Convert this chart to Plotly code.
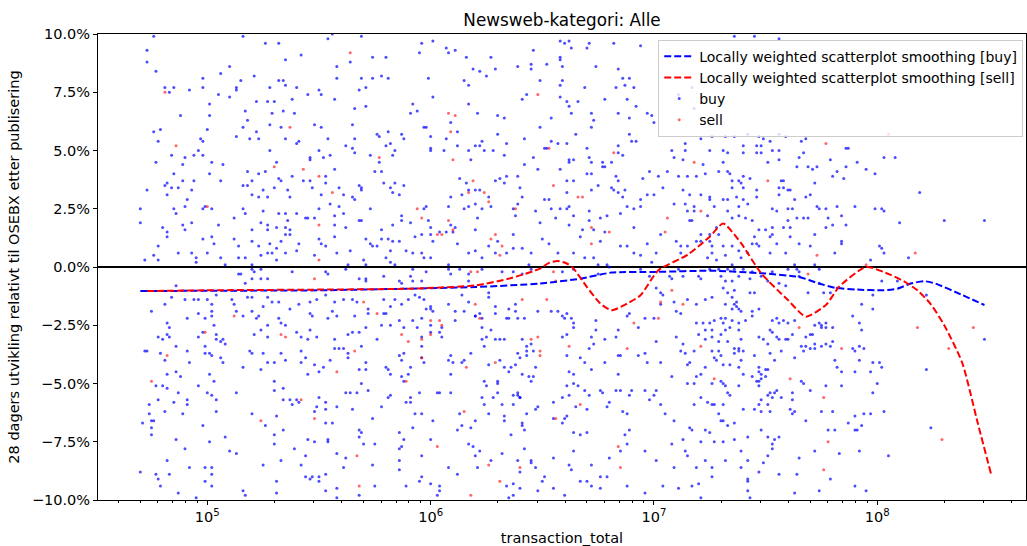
import plotly.graph_objects as go

# ---------------- data (log10 of transaction_total, 28-day return in %) ----------------
buy_obs = [
(4.76,9.9),(5.16,9.9),(4.73,9.3),(4.73,8.8),(4.77,8.4),(5.26,9.6),(5.32,9.6),(5.35,8.9),(5.42,9.1),(5.54,9.8),(5.56,10.0),(5.69,9.9),(5.58,8.6),(5.64,8.8),(5.74,9.0),(5.80,9.0),(5.58,8.1),(5.69,8.1),(5.74,8.1),(5.78,8.2),(5.81,8.1),(5.10,8.6),(5.06,8.3),(4.98,8.1),(5.15,8.0),(5.21,8.2),(4.81,7.7),(4.83,7.5),(4.85,7.7),(4.92,7.6),(4.98,7.7),(5.05,7.4),(5.10,7.3),(5.13,7.7),(5.13,7.6),(5.28,7.7),(5.32,8.0),(5.34,8.0),(5.35,7.8),(5.40,7.7),(5.45,7.4),(5.50,7.6),(5.51,7.4),(5.57,7.2),(5.71,7.7),(5.68,7.6),(5.01,7.0),(5.22,7.1),(5.27,7.1),(5.30,7.1),(5.29,6.6),(5.34,6.7),(5.38,7.2),(5.39,6.6),(5.17,6.7),(5.01,6.5),(4.88,6.5),(5.66,6.8),(5.71,6.9),(5.18,6.3),(5.16,6.0),(5.28,6.1),(5.33,6.0),(5.48,6.1),(5.51,6.0),(5.65,6.1),(4.76,5.8),(4.79,5.9),(5.00,5.9),(4.97,5.5),(4.98,5.4),(5.13,5.6),(5.19,5.5),(5.22,5.8),(5.23,5.5),(5.35,5.5),(5.40,5.3),(5.41,5.4),(4.78,5.4),(4.96,5.0),(4.90,4.7),(4.98,4.8),(5.02,4.5),(5.07,4.4),(4.84,4.8),(4.89,4.4),(4.94,4.8),(4.77,4.5),(5.28,5.0),(5.31,4.5),(5.46,4.7),(5.50,5.0),(5.55,4.8),(5.52,4.7),(5.54,5.5),(5.46,4.6),(5.62,5.2),(5.66,4.9),(5.66,5.5),(5.65,5.1),(5.76,5.7),(5.77,5.6),(5.81,5.8),(5.80,5.2),(5.82,5.3),(5.87,5.7),(5.88,5.5),(5.84,5.0),(5.73,4.8),(5.77,4.5),(5.83,4.8),(5.75,4.1),(5.78,4.1),(5.79,3.6),(5.84,3.6),(5.82,3.4),(5.88,3.5),(5.86,3.1),(5.83,3.2),(5.57,4.2),(5.53,3.9),(5.18,4.1),(5.23,4.0),(5.26,4.1),(5.32,3.8),(5.33,3.7),(5.38,3.9),(5.43,3.7),(5.46,3.7),(5.47,3.4),(5.53,3.6),(5.59,3.4),(5.61,3.1),(5.65,3.0),(5.66,2.9),(5.68,3.5),(5.69,3.4),(5.69,3.3),(5.16,3.5),(5.20,3.7),(5.18,3.5),(5.23,3.0),(5.20,3.1),(5.27,3.0),(5.30,3.4),(5.25,3.3),(5.36,3.3),(5.37,3.0),(5.51,3.1),(5.55,2.7),(5.57,2.2),(5.59,2.6),(5.61,2.3),(4.73,3.3),(4.81,3.5),(4.82,3.6),(4.82,3.1),(4.84,3.4),(4.87,3.4),(4.85,4.0),(4.89,3.7),(4.94,3.7),(4.93,3.3),(4.91,2.9),(5.01,4.0),(5.06,3.7),(4.70,2.5),(4.70,1.9),(4.85,2.5),(4.86,2.3),(4.90,2.6),(4.98,2.5),(4.99,2.6),(5.02,2.5),(4.89,1.8),(4.90,1.6),(4.93,1.9),(4.80,1.7),(4.82,1.5),(4.82,1.3),(5.05,1.8),(5.16,2.5),(5.17,2.3),(5.25,2.4),(5.32,2.3),(5.35,2.3),(5.36,2.0),(5.40,2.3),(5.44,2.1),(5.45,2.1),(5.50,2.5),(5.48,2.1),(5.20,1.6),(5.24,1.9),(5.27,1.8),(5.27,1.6),(5.31,1.7),(5.35,1.7),(5.35,1.4),(5.37,1.4),(5.37,1.6),(5.12,2.1),(5.57,1.8),(5.62,1.7),(5.68,2.0),(5.69,2.0),(5.73,2.5),(5.78,1.6),(5.83,1.8),(5.87,2.2),(5.87,2.0),(4.78,0.9),(4.76,0.5),(4.72,0.3),(4.78,0.3),(4.87,0.6),(4.93,0.6),(4.95,0.4),(4.95,0.2),(4.98,1.2),(5.02,1.3),(5.03,1.0),(5.00,0.6),(5.06,0.4),(5.08,0.1),(5.12,1.2),(5.14,0.9),(5.20,1.1),(5.23,0.9),(5.28,1.0),(5.33,1.1),(5.31,0.8),(5.24,0.5),(5.27,0.6),(5.29,0.6),(5.31,0.3),(5.35,0.6),(5.14,0.4),(5.17,0.4),(5.20,0.1),(5.40,0.7),(5.41,1.0),(5.50,1.2),(5.51,1.0),(5.53,0.9),(5.48,0.5),(5.57,1.3),(5.58,0.6),(5.64,0.7),(5.70,0.3),(5.71,1.2),(5.73,1.0),(5.74,0.9),(5.76,0.9),(5.78,1.2),(5.81,1.2),(5.83,1.1),(5.86,1.1),(5.82,0.7),(5.89,0.7),(5.80,0.4),(5.82,0.2),(5.84,0.1),(5.71,0.1),(5.63,0.1),
(5.96,9.6),(5.95,9.2),(6.01,9.7),(6.07,9.4),(6.08,9.2),(6.11,9.3),(6.16,9.0),(6.19,8.5),(6.22,8.4),(6.25,8.2),(6.27,9.0),(6.29,8.5),(6.15,8.0),(6.17,7.8),(5.99,8.1),(6.01,7.3),(5.92,7.0),(5.91,6.6),(5.94,6.7),(5.97,6.0),(5.98,6.0),(6.00,5.6),(6.00,5.1),(6.00,5.0),(6.17,7.0),(6.21,6.6),(6.30,6.5),(6.33,6.4),(6.30,5.7),(6.34,5.3),(6.33,4.8),(6.28,5.0),(6.24,5.0),(6.22,5.2),(6.23,5.4),(6.20,5.2),(6.17,5.0),(6.18,4.6),(6.12,5.2),(6.06,5.0),(6.07,5.5),(6.12,5.8),(6.09,6.2),(6.39,8.6),(6.45,8.7),(6.45,8.5),(6.52,8.7),(6.46,9.3),(6.58,9.7),(6.60,9.6),(6.62,9.7),(6.63,9.4),(6.58,9.0),(6.58,8.9),(6.59,8.6),(6.70,9.4),(6.71,9.6),(6.82,9.6),(6.94,9.5),(6.74,8.6),(6.84,8.5),(6.59,8.0),(6.58,7.8),(6.69,7.7),(6.49,8.0),(6.43,7.4),(6.41,7.2),(6.58,7.3),(6.61,7.1),(6.62,6.9),(6.66,7.1),(6.63,6.6),(6.54,6.4),(6.49,6.0),(6.72,6.6),(6.73,6.3),(6.72,6.0),(6.78,7.2),(6.83,7.7),(6.86,8.1),(6.87,7.8),(6.89,8.1),(6.91,7.7),(6.88,7.2),(6.92,6.9),(6.84,6.6),(6.89,6.4),(6.97,6.6),(6.99,6.5),(7.00,6.2),(6.89,5.7),(6.92,5.4),(6.90,5.4),(6.84,5.2),(6.84,4.9),(6.86,4.8),(6.77,4.5),(6.77,4.3),(6.78,4.3),(6.81,4.5),(6.71,4.7),(6.72,4.5),(6.62,4.6),(6.64,4.6),(6.62,4.5),(6.70,5.1),(6.65,5.7),(6.61,5.3),(6.57,5.3),(6.54,5.4),(6.51,5.1),(6.52,5.1),(6.46,4.7),(6.42,5.5),(6.42,4.4),(6.48,4.2),(6.58,4.2),(6.39,3.9),(6.34,3.9),(6.31,3.8),(6.29,3.7),(6.33,3.6),(6.40,3.4),(6.41,3.0),(6.39,2.7),(6.37,2.5),(6.38,2.2),(6.47,2.4),(6.54,2.5),(6.58,2.5),(6.61,2.5),(6.62,2.6),(6.64,2.2),(6.71,2.4),(6.71,2.0),(6.72,3.3),(6.75,3.5),(6.79,2.2),(6.76,2.1),(6.70,4.0),(6.72,4.0),(6.61,3.7),(6.64,3.7),(6.61,3.2),(6.53,2.9),(6.51,2.9),(6.49,1.9),(6.56,2.1),(6.62,1.8),(6.68,1.6),(6.67,1.3),(6.73,1.6),(6.76,1.1),(6.78,1.5),(6.83,3.9),(6.84,3.7),(6.81,3.4),(6.84,3.2),(6.82,3.3),(6.86,3.0),(6.87,3.3),(6.85,2.3),(6.88,2.6),(6.91,2.5),(6.94,2.6),(6.94,2.9),(6.97,3.1),(7.00,3.1),(6.95,3.8),(6.98,4.1),(7.02,3.9),(7.04,3.4),(7.06,4.1),(7.08,5.0),(7.09,4.7),(7.13,4.6),(7.14,5.3),(7.14,5.0),(7.21,5.5),(7.25,5.0),(7.26,5.6),(7.22,4.4),(7.23,4.0),(7.11,3.9),(7.15,3.9),(7.19,3.9),(7.13,3.3),(7.16,3.1),(7.21,3.1),(7.25,3.0),(7.25,2.9),(7.09,2.7),(7.14,2.7),(7.18,2.6),(7.15,2.4),(7.18,2.4),(7.17,2.0),(7.16,2.0),(7.24,2.2),(7.27,2.6),(7.28,1.7),(7.29,1.4),(7.25,1.4),(7.21,1.4),(7.21,1.1),(7.19,1.1),(7.25,1.1),(7.26,0.9),(7.26,0.6),(7.24,0.4),(7.28,0.3),(7.10,1.1),(7.12,0.9),(7.15,0.9),(7.12,0.6),(7.01,0.6),(7.03,1.4),(6.97,1.0),(6.91,1.7),(6.88,0.9),(6.85,0.9),(6.91,0.6),(6.94,0.5),(6.99,0.2),(5.91,1.9),(5.93,1.3),(5.96,1.4),(5.98,2.6),(5.97,2.5),(5.99,2.0),(6.00,1.7),(6.00,1.4),(6.01,1.1),(6.04,1.5),(6.07,1.5),(6.08,2.6),(6.09,3.0),(6.09,1.8),(6.10,1.5),(6.11,1.7),(6.12,1.0),(6.13,3.8),(6.14,3.1),(6.16,3.6),(6.17,3.3),(6.15,2.5),(6.17,2.6),(6.20,2.7),(6.20,3.3),(6.22,3.3),(6.21,2.1),(6.20,1.6),(6.27,2.6),(6.26,3.0),(6.23,2.5),(5.92,0.6),(5.96,0.6),(6.00,0.4),(5.97,0.4),(6.08,0.1),(6.17,0.6),(6.20,0.7),(6.23,0.4),(6.26,0.9),(6.30,1.1),(6.29,0.6),(6.34,0.6),(6.37,0.8),(6.37,1.4),(6.41,0.8),(6.45,0.6),(6.44,0.1),(6.50,1.2),(6.53,1.0),(6.57,0.6),(6.64,0.6),(6.69,0.4),(6.73,0.4),(6.75,0.1),(6.79,0.1),(7.11,7.4),(7.18,6.8),(7.17,7.7),
(7.36,9.9),(7.45,9.9),(7.56,9.8),(7.36,5.6),(7.32,5.6),(7.42,5.7),(7.47,5.6),(7.49,5.5),(7.52,5.4),(7.56,5.7),(7.59,5.6),(7.66,5.4),(7.68,5.5),(7.40,5.2),(7.31,5.0),(7.33,4.9),(7.40,4.9),(7.46,5.2),(7.48,5.2),(7.46,4.9),(7.48,4.9),(7.53,5.0),(7.56,5.0),(7.51,4.5),(7.56,4.6),(7.65,4.7),(7.67,4.9),(7.69,4.3),(7.64,4.3),(7.73,4.3),(7.79,4.6),(7.86,5.1),(7.87,5.1),(7.91,4.5),(8.03,4.7),(8.08,4.7),(7.95,4.2),(7.86,4.3),(7.82,4.1),(7.71,4.2),(7.80,3.9),(7.85,3.8),(7.72,3.6),(7.99,4.0),(7.31,4.5),(7.29,4.1),(7.33,4.1),(7.34,4.0),(7.35,3.7),(7.38,3.7),(7.40,3.9),(7.39,3.6),(7.40,3.4),(7.43,3.8),(7.46,3.3),(7.46,3.0),(7.35,3.4),(7.31,2.9),(7.33,2.9),(7.37,3.0),(7.40,2.9),(7.38,2.6),(7.42,2.7),(7.33,2.4),(7.35,2.1),(7.38,2.2),(7.41,2.1),(7.44,2.0),(7.57,3.7),(7.58,3.7),(7.56,3.4),(7.58,3.4),(7.60,3.3),(7.61,3.3),(7.56,3.1),(7.63,2.9),(7.53,2.5),(7.55,2.4),(7.60,2.5),(7.62,2.5),(7.60,2.0),(7.64,2.1),(7.67,2.1),(7.69,2.1),(7.68,3.0),(7.70,3.1),(7.77,2.5),(7.73,2.6),(7.74,2.5),(7.82,2.6),(7.84,2.2),(7.78,2.1),(7.90,2.6),(7.99,2.5),(8.02,2.5),(8.03,2.4),(8.10,1.9),(8.19,3.2),(8.30,2.0),(8.48,2.0),(7.53,1.7),(7.50,1.6),(7.58,1.7),(7.61,1.7),(7.61,1.3),(7.53,1.4),(7.52,1.3),(7.47,1.6),(7.45,1.3),(7.46,1.0),(7.44,1.0),(7.47,0.9),(7.42,0.6),(7.38,0.7),(7.39,0.4),(7.31,0.9),(7.35,0.9),(7.32,0.5),(7.35,0.1),(7.55,1.0),(7.52,0.6),(7.59,0.6),(7.65,1.0),(7.70,0.9),(7.72,1.4),(7.77,1.7),(7.80,1.8),(7.84,1.1),(7.84,1.0),(7.81,0.6),(7.86,1.8),(7.97,0.3),(8.01,0.9),(8.03,0.6),(8.02,0.8),(8.14,0.4),(7.63,0.1),(7.72,0.1),
(5.15,-0.3),(5.14,-0.3),(5.20,-0.1),(5.21,-0.2),(5.24,-0.1),(5.20,-0.5),(5.24,-0.5),(5.27,-0.5),(5.17,-0.7),(5.38,-0.2),(5.53,-0.2),(5.54,-0.3),(5.62,-0.1),(4.86,-0.8),(5.68,-0.5),(5.71,-0.5),(5.71,-0.6),(5.79,-0.4),(5.86,-0.6),(5.87,-0.7),(4.84,-1.3),(4.90,-1.4),(4.94,-1.4),(4.96,-1.4),(5.00,-1.4),(5.04,-1.2),(5.11,-1.4),(5.18,-1.3),(5.20,-1.3),(5.27,-1.3),(5.25,-1.7),(5.29,-1.5),(5.32,-1.5),(5.37,-1.8),(5.41,-1.6),(5.46,-1.5),(5.49,-1.4),(5.53,-1.2),(5.57,-1.5),(5.61,-1.4),(5.65,-1.4),(5.67,-1.5),(5.79,-1.4),(5.82,-1.7),(5.84,-1.4),(5.87,-1.6),(4.75,-1.9),(4.81,-1.6),(4.91,-2.2),(4.96,-2.0),(4.99,-2.2),(5.02,-1.6),(5.02,-1.9),(5.02,-2.1),(5.12,-1.6),(5.13,-1.9),(5.16,-2.1),(5.20,-1.9),(5.22,-2.2),(5.23,-2.1),(5.32,-2.2),(5.33,-2.4),(5.27,-2.5),(5.24,-2.7),(5.21,-2.9),(5.27,-3.0),(5.35,-2.5),(5.46,-2.0),(5.47,-2.1),(5.54,-2.2),(5.56,-1.9),(5.58,-2.1),(5.66,-2.1),(5.72,-1.8),(5.72,-2.0),(5.79,-2.0),(5.80,-2.0),(5.78,-2.5),(5.82,-2.5),(5.86,-2.3),(5.88,-2.6),(5.63,-2.9),(5.65,-2.8),(5.68,-2.8),(5.71,-2.6),(5.57,-3.1),(5.49,-3.0),(5.46,-2.7),(5.45,-3.1),(5.42,-3.0),(5.40,-2.8),(4.78,-3.0),(4.80,-3.1),(4.82,-2.9),(4.83,-2.6),(4.82,-2.4),(4.83,-3.0),(4.96,-3.0),(4.98,-2.8),(5.03,-2.5),(5.04,-2.9),(5.04,-3.1),(5.07,-3.1),(5.06,-3.2),(5.08,-3.3),(4.99,-3.4),(5.01,-3.7),(4.99,-3.7),(5.02,-3.8),(5.06,-3.9),(5.07,-4.1),(4.92,-4.1),(4.91,-3.6),(4.72,-3.6),(4.73,-3.6),(4.79,-3.7),(4.81,-4.0),(4.86,-3.4),(5.16,-4.3),(5.19,-3.6),(5.20,-3.7),(5.25,-3.7),(5.27,-4.1),(5.24,-4.4),(5.30,-4.1),(5.33,-3.7),(5.35,-4.0),(5.42,-3.6),(5.42,-4.1),(5.44,-3.9),(5.45,-4.6),(5.48,-4.2),(5.50,-4.5),(5.52,-4.3),(5.55,-4.0),(5.57,-3.5),(5.59,-3.5),(5.61,-3.5),(5.63,-3.9),(5.63,-3.7),(5.69,-3.4),(5.71,-4.1),(5.68,-4.4),(5.71,-4.4),(5.76,-3.1),(5.80,-4.3),(5.82,-4.6),(5.81,-4.4),(5.86,-3.8),(5.87,-4.0),(5.88,-3.7),(5.87,-4.7),(5.88,-4.9),(4.82,-4.6),(4.86,-4.5),(4.88,-4.7),(4.77,-5.1),(4.80,-5.1),(4.82,-5.2),(4.87,-5.4),(4.96,-5.1),(5.01,-4.6),(5.03,-4.9),(5.00,-5.4),(5.02,-5.5),(5.04,-5.7),(5.04,-6.2),(4.91,-5.7),(4.91,-5.9),(4.89,-6.3),(4.85,-5.8),(4.81,-6.2),(4.78,-5.7),(4.74,-5.9),(4.74,-6.3),(4.75,-6.6),(4.76,-6.6),(4.71,-6.7),(4.75,-6.9),(4.75,-7.2),(4.86,-7.4),(4.90,-7.8),(4.82,-8.3),(4.70,-8.8),(4.77,-8.9),(4.78,-9.1),(4.79,-9.4),(4.83,-8.9),(4.87,-9.7),(4.92,-8.6),(4.95,-9.9),(4.98,-6.8),(5.01,-7.5),(4.99,-8.6),(5.02,-8.6),(5.02,-8.9),(4.99,-9.2),(5.02,-9.4),(5.08,-7.3),(5.10,-7.9),(5.13,-8.0),(5.13,-5.4),(5.16,-9.6),(5.17,-9.8),(5.20,-6.3),(5.25,-8.5),(5.26,-6.8),(5.30,-7.2),(5.30,-7.6),(5.31,-6.4),(5.31,-9.7),(5.31,-9.2),(5.33,-8.3),(5.34,-7.0),(5.34,-5.2),(5.30,-5.3),(5.30,-4.9),(5.34,-5.7),(5.37,-5.7),(5.38,-5.9),(5.40,-5.7),(5.41,-5.8),(5.39,-7.8),(5.42,-8.5),(5.44,-8.1),(5.44,-9.0),(5.46,-9.1),(5.47,-9.0),(5.50,-9.0),(5.50,-9.2),(5.48,-7.5),(5.45,-7.4),(5.48,-6.2),(5.49,-6.0),(5.50,-5.6),(5.53,-5.8),(5.53,-6.1),(5.53,-6.7),(5.54,-7.4),(5.54,-7.5),(5.56,-6.7),(5.58,-6.0),(5.58,-8.0),(5.61,-8.6),(5.62,-8.2),(5.53,-8.9),(5.53,-9.6),(5.58,-9.5),(5.58,-9.9),(5.62,-5.4),(5.64,-5.4),(5.65,-6.1),(5.67,-5.4),(5.69,-5.0),(5.68,-7.0),(5.68,-7.3),(5.69,-7.1),(5.70,-7.6),(5.72,-5.3),(5.74,-6.5),(5.75,-7.6),(5.74,-8.5),(5.75,-9.4),(5.68,-9.8),(5.78,-6.0),(5.81,-5.6),(5.82,-5.5),(5.86,-7.1),(5.88,-7.4),(5.86,-7.8),(5.87,-7.7),(5.86,-8.3),(5.86,-8.7),(5.89,-5.8),(5.89,-9.4),
(5.92,-0.1),(5.98,-0.2),(6.08,-0.1),(6.09,-0.3),(6.13,-0.1),(6.17,-0.3),(6.17,-0.6),(6.23,-0.1),(6.32,-0.2),(6.37,-0.2),(6.41,-0.3),(6.45,-0.1),(6.59,-0.2),(6.64,-0.1),(6.75,-0.3),(6.80,0.0),(6.94,-0.1),(6.98,-0.4),(7.07,-0.4),(7.11,-0.1),(7.13,-0.4),(7.20,-0.4),(7.21,-0.5),(7.25,-0.1),(5.91,-0.4),(5.96,-0.6),(5.92,-0.6),(5.90,-1.4),(5.93,-1.2),(5.95,-1.3),(5.97,-1.4),(5.98,-1.8),(6.00,-1.8),(6.00,-1.7),(6.01,-1.9),(5.96,-2.2),(5.92,-2.3),(5.94,-2.6),(6.00,-2.5),(6.00,-2.8),(5.96,-3.0),(5.96,-3.4),(6.05,-2.6),(6.04,-2.8),(6.05,-3.0),(6.08,-1.6),(6.11,-1.9),(6.11,-2.3),(6.14,-1.2),(6.15,-1.9),(6.17,-1.5),(6.20,-2.1),(6.22,-2.0),(6.23,-2.2),(6.20,-2.1),(6.23,-2.6),(6.26,-1.3),(6.26,-1.1),(6.29,-1.7),(6.29,-2.0),(6.27,-2.7),(6.31,-3.1),(6.33,-3.1),(6.34,-2.2),(6.35,-1.8),(6.35,-2.2),(6.38,-1.6),(6.38,-1.9),(6.39,-2.2),(6.42,-2.2),(6.43,-3.4),(6.41,-3.1),(6.39,-3.7),(6.45,-3.3),(6.48,-1.9),(6.54,-1.9),(6.57,-1.9),(6.59,-2.1),(6.60,-2.2),(6.61,-2.0),(6.63,-2.2),(6.64,-2.4),(6.59,-3.0),(6.61,-2.9),(6.64,-2.6),(6.74,-2.3),(6.74,-2.7),(6.72,-3.0),(6.73,-3.3),(6.71,-3.5),(6.78,-3.1),(6.84,-2.7),(6.83,-3.0),(6.88,-2.1),(6.89,-2.0),(6.93,-2.6),(6.96,-2.2),(7.00,-2.2),(7.03,-1.1),(7.04,-1.2),(7.03,-1.6),(7.01,-0.9),(7.08,-0.5),(7.09,-1.5),(7.10,-1.9),(7.12,-2.0),(7.15,-1.4),(7.19,-1.6),(7.23,-1.4),(7.26,-1.3),(7.19,-2.4),(7.22,-2.4),(7.25,-2.4),(7.27,-2.3),(7.23,-2.7),(7.26,-2.7),(7.10,-3.0),(7.13,-3.3),(7.12,-3.6),(7.14,-3.7),(7.16,-4.1),(7.15,-4.2),(7.18,-3.6),(7.20,-2.9),(7.23,-3.1),(7.26,-3.0),(7.26,-3.6),(7.27,-3.9),(7.28,-4.0),(7.23,-4.3),(7.21,-4.6),(7.19,-4.7),(7.26,-5.0),(7.18,-5.0),(7.15,-5.0),(7.08,-4.7),(7.03,-4.1),(7.01,-3.2),(6.97,-4.1),(6.96,-3.7),(6.93,-3.8),(6.85,-3.8),(6.84,-3.8),(6.84,-4.6),(6.78,-4.1),(6.72,-4.4),(6.67,-3.9),(6.69,-4.1),(6.61,-3.8),(6.62,-4.5),(6.64,-4.6),(6.64,-5.0),(6.66,-5.1),(6.61,-5.1),(6.69,-5.3),(6.62,-5.5),(6.59,-5.6),(6.55,-5.8),(6.65,-6.0),(6.70,-6.1),(6.71,-5.5),(6.76,-5.3),(6.77,-5.4),(6.83,-5.3),(6.85,-5.3),(6.89,-5.5),(6.80,-5.8),(6.79,-6.0),(6.86,-6.2),(6.88,-6.3),(6.90,-5.3),(6.96,-5.3),(7.01,-5.3),(7.00,-5.5),(6.98,-5.7),(7.03,-5.9),(7.05,-6.3),(7.09,-6.6),(7.13,-7.4),(7.16,-6.9),(7.17,-7.0),(7.18,-5.9),(7.21,-5.6),(7.24,-5.8),(7.26,-5.9),(7.27,-5.9),(7.23,-7.0),(7.25,-7.1),(7.21,-7.5),(7.27,-7.5),(7.14,-7.9),(7.15,-8.1),(7.08,-7.6),(7.09,-8.6),(7.01,-8.3),(6.96,-7.9),(6.89,-7.0),(6.87,-7.2),(6.88,-7.6),(6.85,-7.9),(6.80,-8.2),(6.72,-8.5),(6.76,-9.0),(6.79,-9.0),(6.70,-9.2),(6.76,-9.5),(6.88,-9.4),(6.96,-9.7),(7.04,-9.4),(7.11,-9.5),(7.17,-9.4),(7.20,-9.3),(7.21,-9.9),(7.26,-9.0),(7.26,-8.6),(7.23,-8.3),(7.19,-8.6),(6.55,-6.5),(6.60,-6.5),(6.61,-6.4),(6.59,-6.7),(6.64,-7.1),(6.67,-7.2),(6.70,-7.1),(6.64,-7.9),(6.55,-8.2),(6.62,-8.5),(6.63,-8.7),(6.67,-9.2),(6.72,-9.4),(6.60,-9.8),(6.55,-9.5),(6.51,-9.0),(6.50,-9.2),(6.47,-8.6),(6.45,-8.3),(6.45,-8.4),(6.42,-7.8),(6.39,-8.3),(6.40,-8.8),(6.40,-9.5),(6.37,-9.3),(6.34,-9.4),(6.35,-9.9),(6.37,-9.8),(6.48,-9.6),(6.47,-6.1),(6.48,-6.0),(6.43,-6.3),(6.39,-5.4),(6.40,-5.6),(6.39,-5.5),(6.37,-5.5),(6.40,-5.6),(6.37,-5.9),(6.41,-6.7),(6.41,-6.8),(6.42,-7.0),(6.36,-7.2),(6.33,-6.4),(6.33,-6.6),(6.32,-5.9),(6.30,-5.4),(6.28,-5.6),(6.30,-5.0),(6.30,-4.9),(6.24,-4.9),(6.25,-5.1),(6.23,-5.6),(6.24,-5.9),(6.20,-6.6),(6.18,-6.9),(6.14,-6.8),(6.12,-7.0),(6.17,-7.6),(6.19,-7.7),(6.22,-7.9),(6.20,-8.1),(6.21,-8.6),(6.27,-8.3),(6.32,-8.0),(6.26,-6.3),(6.26,-4.2),(6.31,-4.0),(6.33,-4.3),(6.35,-4.5),(6.36,-4.3),(6.38,-4.2),(6.41,-4.6),(6.44,-4.7),(6.46,-4.7),(6.45,-4.9),(6.40,-3.9),(6.43,-3.8),(6.47,-4.3),(6.43,-3.6),(6.46,-3.6),(6.24,-3.4),(6.29,-3.1),(6.25,-3.0),(6.23,-3.1),(6.18,-3.7),(6.15,-4.0),(6.09,-3.8),(6.10,-4.1),(6.14,-4.1),(6.08,-4.0),(6.09,-4.6),(6.03,-5.4),(6.04,-5.4),(6.09,-5.4),(5.95,-5.4),(5.91,-5.6),(5.91,-5.8),(5.90,-4.6),(5.91,-4.3),(5.97,-4.1),(5.96,-3.9),(5.93,-6.3),(5.96,-6.3),(5.92,-6.9),(6.01,-6.6),(6.00,-7.4),(5.96,-8.1),(6.08,-8.6),(6.12,-8.9),(5.96,-9.0),(5.95,-9.2),(6.00,-9.3),(6.04,-9.4),(6.04,-9.6),(6.03,-9.8),(6.13,-6.3),
(7.29,-0.1),(7.33,-0.1),(7.36,-0.1),(7.40,-0.1),(7.44,-0.2),(7.53,-0.2),(7.60,-0.1),(7.64,-0.1),(7.65,-0.2),(7.74,-0.1),(7.30,-0.4),(7.32,-0.6),(7.35,-0.6),(7.38,-0.4),(7.43,-0.5),(7.48,-0.4),(7.51,-0.6),(7.56,-0.7),(7.59,-0.8),(7.65,-0.4),(7.69,-1.1),(7.74,-0.7),(7.76,-1.1),(7.79,-1.1),(7.82,-0.9),(8.02,-0.6),(8.09,-0.6),(7.98,-1.2),(7.93,-1.6),(7.98,-1.8),(8.22,-1.2),(7.31,-0.9),(7.33,-1.1),(7.36,-1.0),(7.35,-1.3),(7.32,-1.6),(7.36,-1.6),(7.37,-1.7),(7.38,-1.8),(7.37,-1.5),(7.39,-1.9),(7.35,-1.8),(7.43,-1.1),(7.45,-1.1),(7.47,-1.8),(7.44,-1.9),(7.44,-2.1),(7.41,-2.3),(7.38,-2.4),(7.35,-2.3),(7.32,-2.2),(7.30,-2.2),(7.31,-2.4),(7.34,-2.6),(7.38,-2.7),(7.32,-2.7),(7.30,-2.9),(7.29,-3.2),(7.33,-3.2),(7.36,-3.5),(7.38,-3.5),(7.39,-3.1),(7.38,-3.6),(7.40,-3.6),(7.29,-3.6),(7.30,-3.8),(7.36,-3.7),(7.39,-4.0),(7.31,-4.2),(7.34,-4.2),(7.38,-4.3),(7.40,-4.6),(7.45,-3.8),(7.47,-3.0),(7.49,-3.1),(7.51,-3.3),(7.52,-2.7),(7.53,-2.3),(7.55,-2.2),(7.56,-2.4),(7.55,-3.0),(7.53,-2.8),(7.56,-3.1),(7.58,-2.3),(7.60,-2.4),(7.63,-2.3),(7.62,-2.9),(7.60,-3.1),(7.59,-3.1),(7.57,-3.6),(7.54,-4.0),(7.52,-3.7),(7.63,-3.9),(7.66,-3.4),(7.68,-3.4),(7.67,-3.6),(7.68,-3.0),(7.70,-2.9),(7.71,-2.9),(7.72,-2.5),(7.74,-2.4),(7.75,-2.5),(7.77,-2.4),(7.75,-2.6),(7.77,-2.6),(7.80,-2.6),(7.72,-3.3),(7.75,-3.4),(7.72,-3.5),(7.77,-3.3),(7.80,-3.2),(7.79,-3.4),(7.70,-3.5),(7.89,-2.1),(7.92,-2.4),(7.93,-2.7),(7.89,-3.5),(7.90,-3.6),(7.92,-3.4),(7.94,-3.5),(7.81,-4.0),(7.82,-4.3),(7.84,-4.5),(7.90,-4.5),(7.92,-4.0),(7.98,-4.1),(8.01,-4.1),(7.97,-4.5),(8.02,-4.3),(8.00,-5.0),(7.98,-5.4),(7.84,-5.1),(7.77,-5.1),(7.70,-5.3),(7.66,-4.9),(7.67,-5.0),(7.62,-5.4),(7.62,-5.7),(7.57,-5.6),(7.55,-5.3),(7.54,-5.4),(7.52,-5.4),(7.51,-5.5),(7.53,-5.6),(7.51,-5.9),(7.48,-5.7),(7.47,-5.9),(7.48,-6.2),(7.45,-6.1),(7.52,-6.2),(7.47,-4.3),(7.47,-4.5),(7.48,-4.6),(7.50,-4.7),(7.50,-4.4),(7.48,-4.8),(7.51,-4.4),(7.47,-4.9),(7.44,-4.7),(7.46,-4.9),(7.47,-5.1),(7.30,-4.9),(7.31,-5.0),(7.32,-5.1),(7.33,-5.4),(7.34,-5.5),(7.38,-5.1),(7.31,-5.9),(7.29,-6.3),(7.30,-6.6),(7.31,-6.6),(7.33,-6.8),(7.36,-6.7),(7.40,-6.1),(7.31,-7.5),(7.36,-7.4),(7.32,-8.3),(7.39,-7.9),(7.39,-8.6),(7.42,-8.3),(7.42,-7.3),(7.42,-9.1),(7.42,-9.2),(7.42,-9.6),(7.43,-9.9),(7.47,-8.8),(7.48,-7.0),(7.49,-8.4),(7.51,-8.1),(7.51,-7.3),(7.53,-7.8),(7.53,-7.6),(7.54,-7.4),(7.56,-7.3),(7.56,-8.9),(7.61,-6.1),(7.62,-6.3),(7.63,-6.2),(7.65,-8.2),(7.64,-8.9),(7.63,-9.7),(7.68,-6.6),(7.72,-7.9),(7.74,-9.6),(7.75,-6.2),(7.78,-7.0),(7.79,-9.1),(7.80,-6.2),(7.81,-7.0),(7.83,-8.0),(7.87,-6.7),(7.90,-6.4),(7.90,-7.0),(7.91,-7.0),(7.92,-7.9),(7.93,-6.8),(7.94,-6.3),(7.97,-6.3),(7.95,-9.6),(7.90,-9.4),(8.03,-6.2),(8.05,-8.1),(8.22,-4.4),(8.24,-6.9),(8.48,-3.1),
]

sell_obs = [
(5.64,9.2),(4.81,7.5),(5.37,6.0),(4.86,5.2),(5.30,4.3),(5.43,4.2),(5.50,3.9),(5.56,3.2),(5.77,4.7),(5.00,2.6),(5.50,1.8),(5.50,0.3),
(6.48,7.4),(6.08,6.6),(6.11,6.5),(6.09,5.8),(6.10,4.6),(6.53,5.1),(6.82,4.9),(6.55,3.5),(6.19,3.7),(6.17,3.2),(6.24,3.2),(6.26,2.8),(6.66,3.0),(6.68,3.0),(6.38,2.5),(5.94,2.5),(5.96,2.1),(6.08,2.0),(6.10,1.6),(6.03,1.4),(6.05,1.4),(6.29,1.4),(6.27,1.2),(6.32,0.9),(6.31,0.5),(6.72,1.7),(6.72,1.0),(6.80,1.5),(7.06,2.1),(7.05,1.5),(7.18,4.5),(7.21,2.4),
(8.05,5.7),(7.77,5.3),(7.51,3.7),(7.73,0.5),(8.17,0.6),(7.95,0.1),
(5.48,-0.5),(5.70,-1.5),(5.12,-2.1),(4.99,-2.8),(5.33,-2.9),(5.35,-3.0),(5.76,-2.0),(5.87,-2.9),(5.66,-3.6),(4.82,-3.8),(5.58,-4.5),(4.75,-4.9),(5.89,-4.9),(5.42,-5.7),(5.24,-6.6),(5.48,-6.5),(5.67,-8.1),(5.68,-9.4),
(5.90,-3.2),(5.96,-3.9),(5.96,-3.1),(6.00,-2.3),(6.04,-2.3),(6.05,-2.5),(6.00,-2.9),(6.18,-0.2),(6.21,-0.2),(6.20,-1.6),(6.22,-2.2),(6.16,-4.3),(6.29,-4.1),(6.45,-3.1),(6.48,-3.0),(6.49,-3.6),(6.49,-3.8),(6.41,-1.4),(6.52,-1.4),(6.55,-0.2),(6.56,-0.6),(6.62,-3.4),(6.67,-5.9),(6.56,-6.5),(6.15,-6.2),(6.03,-7.7),(6.26,-8.5),(6.31,-9.2),(6.18,-9.8),(6.40,-8.6),(6.84,-7.7),(6.85,-8.6),(6.88,-3.5),(6.91,-2.4),(7.02,-2.2),(7.03,-1.5),(7.08,-1.0),(7.13,-1.6),(7.21,-3.4),(7.27,-4.8),
(7.69,-0.3),(7.65,-2.6),(7.84,-3.5),(7.61,-4.8),(7.76,-5.6),(7.78,-7.5),(7.76,-8.7),(8.18,-2.6),(8.43,-2.6),(8.32,-3.5),(8.29,-7.4),
]

# LOWESS curves (log10 of transaction_total, %)
buy_lowess_log10 = [4.70, 5.00, 5.50, 5.90, 6.20, 6.49, 6.67, 6.81, 7.01, 7.26, 7.47, 7.65, 7.74, 7.81, 7.91, 8.03, 8.09, 8.15, 8.21, 8.26, 8.38, 8.48]
buy_lowess_pct = [-1.03, -1.02, -1.00, -0.93, -0.86, -0.71, -0.50, -0.24, -0.21, -0.16, -0.26, -0.43, -0.71, -0.89, -0.97, -1.00, -0.93, -0.71, -0.61, -0.71, -1.20, -1.63]

sell_lowess_log10 = [4.73, 5.00, 5.50, 5.90, 6.20, 6.35, 6.49, 6.53, 6.57, 6.61, 6.64, 6.70, 6.76, 6.81, 6.88, 6.94, 7.02, 7.15, 7.25, 7.31, 7.39, 7.48, 7.60, 7.68, 7.77, 7.83, 7.95, 8.06, 8.12, 8.18, 8.24, 8.30, 8.38, 8.45, 8.51]
sell_lowess_pct = [-1.03, -1.00, -0.97, -0.93, -0.79, -0.50, -0.07, 0.18, 0.26, 0.15, -0.07, -0.86, -1.57, -1.86, -1.57, -1.21, -0.14, 0.52, 1.30, 1.87, 1.02, -0.27, -1.42, -2.13, -1.63, -0.84, 0.00, -0.34, -0.62, -1.00, -1.60, -2.50, -4.10, -6.70, -8.90]

y_tick_vals = [-10.0, -7.5, -5.0, -2.5, 0.0, 2.5, 5.0, 7.5, 10.0]
x_tick_vals = [1e5, 1e6, 1e7, 1e8]
x_tick_text = ["10<sup>5</sup>", "10<sup>6</sup>", "10<sup>7</sup>", "10<sup>8</sup>"]

def fmt_pct(v):
    s = f"{abs(v):.1f}%"
    return ("\u2212" + s) if v < 0 else s

# ---------------- figure ----------------
buy_x = [10 ** p[0] for p in buy_obs]
buy_y = [p[1] for p in buy_obs]
sell_x = [10 ** p[0] for p in sell_obs]
sell_y = [p[1] for p in sell_obs]

fig = go.Figure()
fig.add_trace(go.Scatter(x=buy_x, y=buy_y, mode="markers", name="buy", legendrank=3,
                         marker=dict(color="blue", size=3, opacity=0.7, line=dict(width=0))))
fig.add_trace(go.Scatter(x=sell_x, y=sell_y, mode="markers", name="sell", legendrank=4,
                         marker=dict(color="red", size=3, opacity=0.6, line=dict(width=0))))
fig.add_trace(go.Scatter(x=[10 ** v for v in buy_lowess_log10], y=buy_lowess_pct, mode="lines",
                         name="Locally weighted scatterplot smoothing [buy]", legendrank=1,
                         line=dict(color="blue", width=2, dash="7px,3px", shape="spline", smoothing=0.6)))
fig.add_trace(go.Scatter(x=[10 ** v for v in sell_lowess_log10], y=sell_lowess_pct, mode="lines",
                         name="Locally weighted scatterplot smoothing [sell]", legendrank=2,
                         line=dict(color="red", width=2, dash="7px,3px", shape="spline", smoothing=0.6)))

font_family = "DejaVu Sans"
fs = 14.5
fig.update_layout(
    width=1027, height=546,
    margin=dict(l=98, r=1, t=34, b=46, autoexpand=False),
    paper_bgcolor="white", plot_bgcolor="white",
    font=dict(family=font_family, size=fs, color="black"),
    title=dict(text="Newsweb-kategori: Alle", x=(98 + 1026) / 2 / 1027, xanchor="center",
               y=1 - 20 / 546, yanchor="middle", font=dict(size=16.8, color="black")),
    showlegend=True,
    legend=dict(x=0.997, xanchor="right", y=0.988, yanchor="top",
                bgcolor="rgba(255,255,255,0.8)", bordercolor="#cccccc", borderwidth=1,
                font=dict(size=14, color="black"), itemsizing="trace", itemwidth=30,
                tracegroupgap=0),
)
fig.update_xaxes(
    type="log", range=[4.5105, 8.666],
    tickvals=x_tick_vals, ticktext=x_tick_text,
    ticks="outside", ticklen=4, tickwidth=1, tickcolor="black",
    minor=dict(ticks="outside", ticklen=2, tickwidth=0.8, tickcolor="black", dtick="D1", showgrid=False),
    showline=True, linecolor="black", linewidth=1, mirror=True,
    showgrid=False, zeroline=False,
    tickfont=dict(size=fs, color="black"),
    title=dict(text="transaction_total", font=dict(size=fs, color="black"), standoff=13),
)
fig.update_yaxes(
    range=[-10, 10],
    tickvals=y_tick_vals, ticktext=[fmt_pct(v) for v in y_tick_vals],
    ticks="outside", ticklen=4, tickwidth=1, tickcolor="black",
    showline=True, linecolor="black", linewidth=1, mirror=True,
    showgrid=False, zeroline=True, zerolinecolor="black", zerolinewidth=2,
    tickfont=dict(size=fs, color="black"),
    title=dict(text="28 dagers utvikling relativt til OSEBX etter publisering",
               font=dict(size=fs, color="black"), standoff=8),
)

fig.write_html("out.html", config={"displayModeBar": False},
               post_script="document.body.style.margin='0px';")
